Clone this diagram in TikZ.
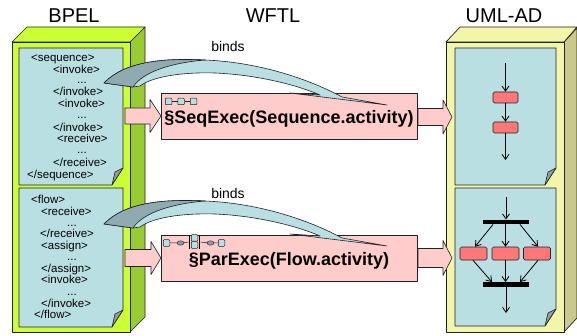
\documentclass[tikz,border=0pt]{standalone}
\usepackage{fontspec}
\setmainfont{Liberation Sans}
\usetikzlibrary{arrows.meta,calc,shapes.geometric}
\definecolor{limef}{HTML}{CCFF33}
\definecolor{limes}{HTML}{99CC33}
\definecolor{panelc}{HTML}{B9DFE3}
\definecolor{ribdark}{HTML}{8FAAB0}
\definecolor{pinkf}{HTML}{FFCCCC}
\definecolor{umlf}{HTML}{F2F5AA}
\definecolor{umls}{HTML}{C9C98C}
\definecolor{actred}{HTML}{FF7777}
\definecolor{foldc}{HTML}{8C9DA1}
\definecolor{edgec}{HTML}{222222}
\newcommand\foldpanel[4]{%
  \filldraw[fill=panelc,draw=edgec,line width=0.6pt] (#1,#2) -- (#3,#2) -- (#3,#4-17) -- (#3-11,#4) -- (#1,#4) -- cycle;
  \filldraw[fill=foldc,draw=edgec,line width=0.6pt] (#3,#4-17) -- (#3-8,#4-13) -- (#3-11,#4) -- cycle;}
\newcommand\blockarr[6]{% x0 x1 x2 yc halfshaft halfhead
  \filldraw[fill=pinkf,draw=edgec,line width=0.6pt] (#1,#4-#5) -- (#2,#4-#5) -- (#2,#4-#6) -- (#3,#4) -- (#2,#4+#6) -- (#2,#4+#5) -- (#1,#4+#5) -- cycle;}
\newcommand\ribbon[1]{%
  \begin{scope}[yshift=-#1pt]
  \filldraw[fill=panelc,draw=edgec,line width=0.6pt] (104,83) .. controls (125,61) and (165,58) .. (205,60) .. controls (255,62) and (305,77) .. (342,97) -- (387,105) -- (290,93) -- (320,95) .. controls (302,87) and (262,75) .. (215,73) .. controls (180,72) and (152,77) .. (140,86) -- (133,87) -- cycle;
  \filldraw[fill=ribdark,draw=edgec,line width=0.6pt] (104,83) .. controls (125,61) and (165,58) .. (205,60) .. controls (170,63) and (143,72) .. (133,87) -- cycle;
  \end{scope}}
\begin{document}
\begin{tikzpicture}[x=1pt,y=-1pt,line join=round,
  title/.style={font=\fontsize{20}{22}\selectfont,inner sep=0pt},
  code/.style={font=\fontsize{11.5}{12}\selectfont,anchor=base west,inner sep=0pt},
  dotsn/.style={font=\fontsize{11.5}{12}\selectfont,anchor=base,inner sep=0pt},
  bindlbl/.style={font=\fontsize{14}{16}\selectfont,inner sep=0pt},
  wftl/.style={draw=edgec,fill=pinkf,line width=0.7pt,minimum width=256pt,minimum height=46pt,inner sep=0pt},
  wlbl/.style={font=\fontsize{18}{20}\selectfont\bfseries,anchor=base,inner sep=0pt},
  icon/.style={draw=edgec,fill=panelc,line width=0.5pt,rounded corners=0.8pt,minimum size=6.5pt,inner sep=0pt},
  iconell/.style={ellipse,draw=edgec,fill=foldc,line width=0.4pt,minimum width=7pt,minimum height=4.5pt,inner sep=0pt},
  iconbar/.style={fill=black,minimum width=1.6pt,minimum height=14pt,inner sep=0pt},
  act/.style={draw=edgec,fill=actred,line width=0.6pt,rounded corners=1.5pt,minimum width=25pt,minimum height=11pt,inner sep=0pt},
  actw/.style={act,minimum width=27pt,minimum height=13pt},
  syncbar/.style={fill=black,minimum width=46pt,minimum height=4.5pt,inner sep=0pt},
  flow/.style={draw=black,line width=0.8pt,-{Straight Barb[length=5pt,width=7pt,line width=0.8pt]}},
  iline/.style={draw=edgec,line width=0.5pt}]
\useasboundingbox (0,0) rectangle (577,336);
% ---- BPEL box
\filldraw[fill=limes,draw=edgec,line width=0.7pt] (130,42) -- (145,27) -- (145,317) -- (130,332) -- cycle;
\filldraw[fill=limef,draw=edgec,line width=0.7pt] (12,42) -- (27,27) -- (145,27) -- (130,42) -- cycle;
\filldraw[fill=limef,draw=edgec,line width=0.7pt] (12,42) rectangle (130,332);
\foldpanel{19}{48}{123}{185}
\foldpanel{19}{188}{123}{327}
% ---- UML box
\filldraw[fill=umls,draw=edgec,line width=0.7pt] (564,42) -- (577,28) -- (577,318) -- (564,332) -- cycle;
\filldraw[fill=umlf,draw=edgec,line width=0.7pt] (446,42) -- (460,27) -- (577,27) -- (564,42) -- cycle;
\filldraw[fill=umlf,draw=edgec,line width=0.7pt] (446,42) rectangle (564,332);
\foldpanel{455}{48}{556}{185}
\foldpanel{455}{188}{556}{326}
% ---- titles
\node[title] (tb) at (74,16) {BPEL};
\node[title] (tw) at (273,16) {WFTL};
\node[title] (tu) at (504,16) {UML-AD};
% ---- BPEL code, sequence
\node[code] (c1) at (31,61.5) {<sequence>};
\node[code] (c2) at (53,73.5) {<invoke>};
\node[dotsn] (c3) at (82,84) {...};
\node[code] (c4) at (53,95.5) {</invoke>};
\node[code] (c5) at (58,107.5) {<invoke>};
\node[dotsn] (c6) at (82,119) {...};
\node[code] (c7) at (53,131.5) {</invoke>};
\node[code] (c8) at (57,142.5) {<receive>};
\node[dotsn] (c9) at (82,154) {...};
\node[code] (c10) at (53,166.5) {</receive>};
\node[code] (c11) at (27,178.5) {</sequence>};
% ---- BPEL code, flow
\node[code] (d1) at (31,203.5) {<flow>};
\node[code] (d2) at (41,215.5) {<receive>};
\node[dotsn] (d3) at (72,227) {...};
\node[code] (d4) at (40,237.5) {</receive>};
\node[code] (d5) at (41,249.5) {<assign>};
\node[dotsn] (d6) at (72,260) {...};
\node[code] (d7) at (41,272.5) {</assign>};
\node[code] (d8) at (41,283.5) {<invoke>};
\node[dotsn] (d9) at (72,295) {...};
\node[code] (d10) at (41,307.5) {</invoke>};
\node[code] (d11) at (34,318.5) {</flow>};
% ---- WFTL boxes
\node[wftl] (seq) at (289,116) {};
\node[wftl] (par) at (289,258) {};
\node[wlbl] (seqt) at (289,123.5) {§SeqExec(Sequence.activity)};
\node[wlbl] (part) at (289,265.5) {§ParExec(Flow.activity)};
% icons
\node[icon] (s1) at (168.5,101.5) {};
\node[icon] (s2) at (181,101.5) {};
\node[icon] (s3) at (193.5,101.5) {};
\draw[iline] (s1) -- (s2) (s2) -- (s3);
\node[icon] (p1) at (166.5,243) {};
\node[iconell] (p2) at (180.5,243) {};
\node[iconbar] (p3) at (189.5,242) {};
\node[icon] (p4) at (194.5,238) {};
\node[icon] (p5) at (194.5,245) {};
\node[iconbar] (p6) at (199.5,242) {};
\node[iconell] (p7) at (210.5,243) {};
\node[icon] (p8) at (221.5,243) {};
\draw[iline] (p1) -- (p2) (p2) -- (p3) (p6) -- (p7) (p7) -- (p8);
% ---- block arrows
\blockarr{125}{150}{161}{116}{8}{16.5}
\blockarr{418}{443}{452}{117}{8.5}{17}
\blockarr{125}{151}{161}{258}{8.5}{16.5}
\blockarr{418}{443}{452}{258}{9.5}{17.5}
% ---- binds ribbons
\ribbon{0}
\ribbon{141}
\node[bindlbl] (b1) at (228,47) {binds};
\node[bindlbl] (b2) at (228,193) {binds};
% ---- UML AD sequence
\coordinate (u0) at (505.5,63);
\node[act] (ua) at (505.5,97.5) {};
\node[act] (ub) at (505.5,127.5) {};
\coordinate (u1) at (505.5,160);
\draw[flow] (u0) -- (ua);
\draw[flow] (ua) -- (ub);
\draw[flow] (ub) -- (u1);
% ---- UML AD parallel
\coordinate (v0) at (506,197);
\node[syncbar] (fk) at (506,222) {};
\node[actw] (va) at (473.5,253.5) {};
\node[actw] (vb) at (505.5,253.5) {};
\node[actw] (vc) at (537,253.5) {};
\node[syncbar] (jn) at (506,284.5) {};
\coordinate (v1) at (506,313);
\draw[flow] (v0) -- (fk.north);
\draw[flow] ($(fk.south)+(-13,0)$) -- ($(va.north)+(1.5,0)$);
\draw[flow] (fk.south -| vb.north) -- (vb.north);
\draw[flow] ($(fk.south)+(14,0)$) -- ($(vc.north)+(1,0)$);
\draw[flow] ($(va.south)+(-0.5,0)$) -- ($(jn.north)+(-14,0)$);
\draw[flow] (vb.south) -- (vb.south |- jn.north);
\draw[flow] ($(vc.south)+(1,0)$) -- ($(jn.north)+(14,0)$);
\draw[flow] (jn.south) -- (v1);
\end{tikzpicture}
\end{document}
